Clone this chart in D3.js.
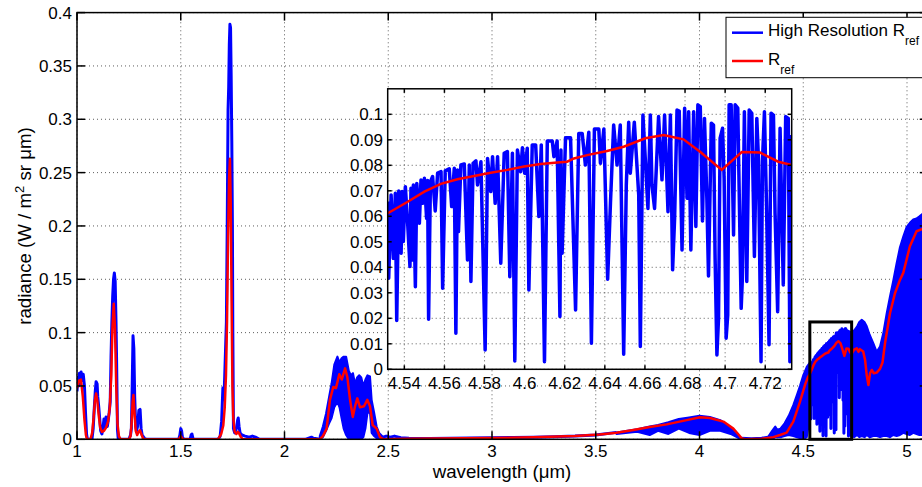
<!DOCTYPE html>
<html>
<head>
<meta charset="utf-8">
<title>radiance</title>
<script src="https://d3js.org/d3.v7.min.js"></script>
<style>
  body { margin: 0; background: #fff; }
  text { font-family: "Liberation Sans", Arial, Helvetica, sans-serif; fill: #000; }
</style>
</head>
<body>
<script>
// ---- data ----
var mainXTicks = [1, 1.5, 2, 2.5, 3, 3.5, 4, 4.5, 5];
var mainYTicks = [0, 0.05, 0.1, 0.15, 0.2, 0.25, 0.3, 0.35, 0.4];
var insetXTicks = [4.54, 4.56, 4.58, 4.6, 4.62, 4.64, 4.66, 4.68, 4.7, 4.72];
var insetYTicks = [0, 0.01, 0.02, 0.03, 0.04, 0.05, 0.06, 0.07, 0.08, 0.09, 0.1];
var legendNames = ["High Resolution R", "R"];
var legendSub = "ref";

// high resolution spectrum, line parts [wavelength, radiance]
var hiresLine1 = [[1.000,0.045],[1.004,0.058],[1.008,0.050],[1.012,0.062],[1.016,0.052],[1.020,0.063],[1.025,0.055],
  [1.030,0.061],[1.036,0.050],[1.041,0.025],[1.046,0.005],[1.050,0],[1.072,0],[1.078,0.010],[1.083,0.028],[1.088,0.045],
  [1.092,0.054],[1.097,0.052],[1.100,0.040],[1.105,0.030],[1.110,0.018],[1.114,0.008],[1.120,0.005],[1.126,0.012],
  [1.130,0.019],[1.134,0.010],[1.140,0.021],[1.146,0.012],[1.150,0.017],[1.155,0.025],[1.160,0.035],[1.164,0.077],
  [1.168,0.110],[1.172,0.134],[1.176,0.150],[1.180,0.156],[1.184,0.148],[1.188,0.110],[1.191,0.071],[1.195,0.009],
  [1.199,0],[1.250,0],[1.258,0.004],[1.262,0.010],[1.266,0.050],[1.270,0.097],[1.274,0.085],[1.278,0.040],[1.283,0.012],
  [1.287,0.008],[1.292,0.012],[1.298,0.027],[1.304,0.028],[1.309,0.010],[1.314,0.004],[1.325,0.001],[1.335,0],
  [1.490,0],[1.496,0.004],[1.500,0.010],[1.504,0.008],[1.508,0.002],[1.515,0],[1.545,0],[1.550,0.004],[1.554,0.005],
  [1.560,0],[1.680,0],[1.690,0.003],[1.697,0.017],[1.703,0.048],[1.708,0.037],[1.712,0.060],[1.716,0.085],[1.720,0.110],
  [1.724,0.200],[1.728,0.309],[1.731,0.330],[1.734,0.370],[1.737,0.389],[1.740,0.386],[1.743,0.340],[1.746,0.280],
  [1.749,0.200],[1.751,0.100],[1.754,0.010],[1.760,0.006],[1.768,0.010],[1.774,0.018],[1.777,0.020],[1.781,0.012],
  [1.786,0.006],[1.795,0.004],[1.810,0.003],[1.830,0.002],[1.845,0.003],[1.860,0.002],[1.880,0],[2.100,0],[2.130,0.002],
  [2.140,0.001],[2.170,0]];
var hiresLine2 = [[2.476,0.002],[2.490,0.003],[2.510,0.002],[2.530,0.003],[2.560,0.0015],[2.600,0.001],[2.700,0.0008],
  [2.800,0.001],[2.900,0.0012],[3.000,0.0015],[3.100,0.0018],[3.200,0.002],[3.300,0.0025],[3.400,0.003],[3.500,0.004],
  [3.600,0.0065]];
var hiresLine3 = [[4.200,0.001],[4.250,0.0005],[4.300,0.001],[4.330,0.002]];
// the zoomed window (also drawn in the main axes)
var hiresInset = [[4.5317,0.0658],[4.5322,0.0357],[4.5334,0.0684],[4.5345,0.0435],[4.5355,0.0690],[4.5362,0.0191],
  [4.5372,0.0699],[4.5384,0.0455],[4.5389,0.0697],[4.5395,0.0501],[4.5405,0.0716],[4.5417,0.0566],[4.5428,0.0403],
  [4.5433,0.0710],[4.5438,0.0429],[4.5445,0.0723],[4.5455,0.0324],[4.5462,0.0729],[4.5475,0.0573],[4.5483,0.0742],
  [4.5491,0.0651],[4.5500,0.0749],[4.5511,0.0592],[4.5516,0.0740],[4.5521,0.0196],[4.5530,0.0736],[4.5541,0.0756],
  [4.5554,0.0621],[4.5566,0.0769],[4.5583,0.0775],[4.5591,0.0318],[4.5604,0.0778],[4.5624,0.0786],[4.5636,0.0638],
  [4.5649,0.0788],[4.5657,0.0141],[4.5665,0.0782],[4.5670,0.0540],[4.5682,0.0801],[4.5699,0.0805],[4.5715,0.0429],
  [4.5724,0.0801],[4.5732,0.0344],[4.5743,0.0808],[4.5757,0.0817],[4.5765,0.0723],[4.5782,0.0814],[4.5803,0.0076],
  [4.5815,0.0827],[4.5831,0.0697],[4.5840,0.0834],[4.5853,0.0651],[4.5865,0.0834],[4.5881,0.0416],[4.5898,0.0847],
  [4.5914,0.0854],[4.5926,0.0363],[4.5939,0.0847],[4.5951,0.0033],[4.5964,0.0860],[4.5980,0.0775],[4.5989,0.0869],
  [4.6000,0.0769],[4.6013,0.0867],[4.6021,0.0311],[4.6038,0.0880],[4.6055,0.0880],[4.6071,0.0599],[4.6083,0.0880],
  [4.6099,0.0030],[4.6113,0.0895],[4.6138,0.0895],[4.6146,0.0834],[4.6162,0.0895],[4.6176,0.0207],[4.6181,0.0860],
  [4.6187,0.0455],[4.6204,0.0908],[4.6229,0.0908],[4.6254,0.0233],[4.6270,0.0925],[4.6287,0.0925],[4.6303,0.0801],
  [4.6320,0.0930],[4.6333,0.0102],[4.6348,0.0942],[4.6370,0.0942],[4.6378,0.0808],[4.6395,0.0942],[4.6414,0.0353],
  [4.6428,0.0651],[4.6444,0.0958],[4.6461,0.0801],[4.6477,0.0958],[4.6494,0.0059],[4.6507,0.0723],[4.6519,0.0969],
  [4.6527,0.0769],[4.6547,0.0969],[4.6569,0.0684],[4.6577,0.0089],[4.6590,0.0997],[4.6615,0.0631],[4.6627,0.0997],
  [4.6635,0.0723],[4.6648,0.0631],[4.6668,0.0991],[4.6685,0.0743],[4.6698,0.0997],[4.6715,0.0618],[4.6727,0.0997],
  [4.6738,0.0390],[4.6748,0.0592],[4.6760,0.1017],[4.6771,0.1013],[4.6785,0.0468],[4.6798,0.1024],[4.6810,0.0671],
  [4.6818,0.1010],[4.6829,0.0468],[4.6843,0.1010],[4.6854,0.0560],[4.6864,0.1037],[4.6876,0.1030],[4.6887,0.0582],
  [4.6897,0.0984],[4.6909,0.0664],[4.6917,0.0366],[4.6931,0.0965],[4.6942,0.0958],[4.6950,0.0435],[4.6959,0.0056],
  [4.6967,0.0200],[4.6975,0.0906],[4.6987,0.0945],[4.6995,0.0749],[4.7005,0.0122],[4.7013,0.0213],[4.7020,0.1037],
  [4.7030,0.1037],[4.7042,0.0527],[4.7050,0.1037],[4.7063,0.1024],[4.7080,0.0239],[4.7086,0.0357],[4.7096,0.1010],
  [4.7108,0.0344],[4.7120,0.1017],[4.7133,0.1004],[4.7146,0.0442],[4.7158,0.0984],[4.7166,0.0827],[4.7179,0.0030],
  [4.7186,0.0814],[4.7196,0.1010],[4.7207,0.0618],[4.7219,0.0096],[4.7229,0.1004],[4.7241,0.0997],[4.7249,0.0612],
  [4.7262,0.0226],[4.7274,0.0945],[4.7290,0.0331],[4.7302,0.0991],[4.7315,0.0984],[4.7323,0.0030],[4.7332,0.0919]];

// dense parts of the high resolution spectrum: [wavelength, upper, lower]
var hiresBandA = [[2.170,0.003,0],[2.185,0.012,0.002],[2.200,0.024,0.008],[2.215,0.040,0.015],[2.227,0.0525,0.020],
  [2.240,0.070,0.030],[2.255,0.0775,0.035],[2.265,0.072,0.030],[2.275,0.076,0.020],[2.285,0.0775,0.010],[2.297,0.0775,0.004],
  [2.310,0.064,0],[2.320,0.060,0],[2.330,0.062,0],[2.340,0.052,0],[2.350,0.058,0],[2.360,0.060,0],[2.370,0.058,0],
  [2.380,0.050,0.002],[2.390,0.056,0.010],[2.400,0.060,0.025],[2.412,0.059,0.025],[2.420,0.037,0.006],[2.432,0.025,0.003],
  [2.444,0.012,0.001],[2.456,0.006,0],[2.476,0.002,0]];
var hiresBandB = [[3.600,0.0065,0.005],[3.700,0.0095,0.007],[3.760,0.012,0.004],[3.800,0.0135,0.008],[3.850,0.016,0.005],
  [3.900,0.019,0.010],[3.950,0.0205,0.006],[4.000,0.022,0.004],[4.050,0.021,0.008],[4.100,0.018,0.008],[4.150,0.011,0.005],
  [4.180,0.005,0.002],[4.200,0.001,0]];
var hiresBandC = [[4.330,0.002,0],[4.350,0.008,0],[4.365,0.012,0.002],[4.375,0.009,0.002],[4.390,0.010,0.002],
  [4.410,0.015,0.003],[4.430,0.022,0.004],[4.452,0.032,0.003],[4.470,0.042,0.002],[4.484,0.050,0.001],[4.500,0.060,0],
  [4.517,0.068,0.002],[4.5317,0.072,0.020]];
// solid core of the zoomed window as it shows at the scale of the main axes
var hiresBandE = [[4.5317,0.068,0.045],[4.545,0.073,0.052],[4.555,0.076,0.056],[4.565,0.079,0.060],[4.575,0.082,0.061],
  [4.585,0.084,0.062],[4.595,0.086,0.062],[4.605,0.088,0.064],[4.615,0.090,0.065],[4.625,0.092,0.066],[4.635,0.094,0.066],
  [4.645,0.096,0.066],[4.655,0.097,0.065],[4.665,0.100,0.064],[4.680,0.102,0.060],[4.690,0.102,0.050],[4.700,0.103,0.040],
  [4.710,0.102,0.050],[4.720,0.101,0.055],[4.7332,0.100,0.050]];
var hiresBandD = [[4.7332,0.100,0.003],[4.745,0.102,0.002],[4.760,0.106,0.004],[4.770,0.110,0.002],[4.782,0.112,0.003],
  [4.795,0.110,0.002],[4.806,0.106,0.004],[4.820,0.098,0.002],[4.838,0.090,0.003],[4.854,0.082,0.003],[4.870,0.087,0.002],
  [4.886,0.100,0.003],[4.902,0.118,0.003],[4.918,0.134,0.002],[4.934,0.149,0.004],[4.950,0.165,0.003],[4.966,0.180,0.004],
  [4.982,0.190,0.006],[4.998,0.199,0.005],[5.014,0.203,0.004],[5.030,0.206,0.006],[5.046,0.207,0.005],[5.060,0.209,0.004],
  [5.080,0.212,0.004],[5.100,0.214,0.004]];

// reference (convolved) spectrum [wavelength, radiance]
var refCurve = [[1.000,0.048],[1.010,0.055],[1.019,0.056],[1.028,0.040],[1.036,0.018],[1.043,0.004],[1.048,0],[1.065,0],
  [1.073,0.006],[1.080,0.020],[1.086,0.036],[1.092,0.043],[1.098,0.036],[1.105,0.022],[1.112,0.011],[1.120,0.007],
  [1.130,0.008],[1.140,0.011],[1.150,0.017],[1.158,0.030],[1.165,0.060],[1.171,0.105],[1.177,0.127],[1.183,0.105],
  [1.189,0.050],[1.195,0.015],[1.202,0.003],[1.210,0],[1.250,0],[1.258,0.003],[1.263,0.015],[1.268,0.035],[1.272,0.0415],
  [1.277,0.025],[1.283,0.008],[1.290,0.004],[1.297,0.007],[1.303,0.0085],[1.310,0.005],[1.318,0.001],[1.325,0],
  [1.490,0],[1.500,0.003],[1.510,0],[1.680,0],[1.695,0.005],[1.705,0.013],[1.712,0.030],[1.718,0.060],[1.723,0.110],
  [1.728,0.190],[1.733,0.245],[1.737,0.263],[1.741,0.220],[1.745,0.130],[1.749,0.050],[1.753,0.020],[1.760,0.007],
  [1.768,0.005],[1.775,0.007],[1.780,0.006],[1.790,0.002],[1.800,0],[2.170,0],[2.185,0.003],[2.203,0.010],[2.219,0.037],
  [2.235,0.049],[2.248,0.048],[2.264,0.061],[2.276,0.056],[2.292,0.0665],[2.303,0.058],[2.316,0.037],[2.329,0.021],
  [2.340,0.031],[2.351,0.0384],[2.364,0.030],[2.383,0.031],[2.399,0.037],[2.412,0.031],[2.425,0.0134],[2.444,0.010],
  [2.460,0.002],[2.476,0],[2.600,0.0005],[3.000,0.0012],[3.200,0.002],[3.400,0.0032],[3.520,0.0045],[3.600,0.0062],
  [3.681,0.0088],[3.760,0.0115],[3.842,0.014],[3.938,0.018],[4.002,0.0206],[4.050,0.020],[4.115,0.0166],[4.163,0.010],
  [4.190,0.004],[4.203,0.0009],[4.220,0],[4.300,0.0005],[4.356,0.002],[4.388,0.004],[4.420,0.0062],[4.452,0.0166],
  [4.484,0.035],[4.510,0.052],[4.522,0.058],[4.5322,0.0614],[4.5417,0.0657],[4.5500,0.0697],[4.5582,0.0727],
  [4.5665,0.0745],[4.5748,0.0758],[4.5831,0.0771],[4.5914,0.0782],[4.5997,0.0795],[4.6080,0.0805],[4.6163,0.0811],
  [4.6212,0.0814],[4.6246,0.0827],[4.6312,0.0840],[4.6411,0.0856],[4.6494,0.0873],[4.6602,0.0906],[4.6693,0.0919],
  [4.6792,0.0902],[4.6875,0.0853],[4.6983,0.0782],[4.7083,0.0852],[4.7174,0.0850],[4.7265,0.0814],[4.7331,0.0801],
  [4.745,0.0840],[4.758,0.0853],[4.766,0.0820],[4.773,0.0845],[4.789,0.0822],[4.798,0.0744],[4.806,0.060],[4.814,0.0509],
  [4.822,0.0619],[4.830,0.0650],[4.840,0.0619],[4.854,0.0625],[4.870,0.0660],[4.882,0.0720],[4.894,0.0900],[4.918,0.1181],
  [4.942,0.1369],[4.966,0.1494],[4.982,0.156],[5.014,0.181],[5.046,0.195],[5.072,0.197],[5.100,0.199]];

// ---- drawing ----
var width = 922, height = 487;
var BLUE = '#0000ff', RED = '#ff0000';

var svg = d3.select('body').append('svg')
    .attr('width', width).attr('height', height);

var x = d3.scaleLinear().domain([1, 5.1]).range([77, 927.75]);
var y = d3.scaleLinear().domain([0, 0.4]).range([439.3, 12.6]);

var defs = svg.append('defs');
defs.append('clipPath').attr('id', 'clipMain').append('rect')
    .attr('x', x(1)).attr('y', y(0.4)).attr('width', x(5.1) - x(1)).attr('height', y(0) - y(0.4));

function drawGrid(g, xs, ys, xt, yt) {
  g.selectAll('.gx').data(xt).enter().append('line')
    .attr('x1', d => xs(d)).attr('x2', d => xs(d))
    .attr('y1', ys.range()[0]).attr('y2', ys.range()[1])
    .attr('stroke', '#333').attr('stroke-width', 0.8).attr('stroke-dasharray', '1,3');
  g.selectAll('.gy').data(yt).enter().append('line')
    .attr('y1', d => ys(d)).attr('y2', d => ys(d))
    .attr('x1', xs.range()[0]).attr('x2', xs.range()[1])
    .attr('stroke', '#333').attr('stroke-width', 0.8).attr('stroke-dasharray', '1,3');
}

function drawFrame(g, xs, ys, xt, yt, tl, sw) {
  var x0 = xs.range()[0], x1 = xs.range()[1], y0 = ys.range()[0], y1 = ys.range()[1];
  g.append('rect').attr('x', x0).attr('y', y1).attr('width', x1 - x0).attr('height', y0 - y1)
    .attr('fill', 'none').attr('stroke', '#000').attr('stroke-width', sw);
  xt.forEach(function(t) {
    g.append('line').attr('x1', xs(t)).attr('x2', xs(t)).attr('y1', y0).attr('y2', y0 - tl).attr('stroke', '#000').attr('stroke-width', sw);
    g.append('line').attr('x1', xs(t)).attr('x2', xs(t)).attr('y1', y1).attr('y2', y1 + tl).attr('stroke', '#000').attr('stroke-width', sw);
  });
  yt.forEach(function(t) {
    g.append('line').attr('y1', ys(t)).attr('y2', ys(t)).attr('x1', x0).attr('x2', x0 + tl).attr('stroke', '#000').attr('stroke-width', sw);
    g.append('line').attr('y1', ys(t)).attr('y2', ys(t)).attr('x1', x1).attr('x2', x1 - tl).attr('stroke', '#000').attr('stroke-width', sw);
  });
}

function drawSpectra(g, xs, ys) {
  var line = d3.line().x(d => xs(d[0])).y(d => ys(d[1]));
  var band = d3.area().x(d => xs(d[0])).y0(d => ys(d[2])).y1(d => ys(d[1]));
  [hiresBandA, hiresBandB, hiresBandC, hiresBandE, hiresBandD].forEach(function(b) {
    g.append('path').attr('d', band(b)).attr('fill', BLUE)
      .attr('stroke', BLUE).attr('stroke-width', 2).attr('stroke-linejoin', 'round');
  });
  [hiresLine1, hiresLine2, hiresLine3, hiresInset].forEach(function(s) {
    g.append('path').attr('d', line(s)).attr('fill', 'none')
      .attr('stroke', BLUE).attr('stroke-width', 3).attr('stroke-linejoin', 'round');
  });
  g.append('path').attr('d', line(refCurve)).attr('fill', 'none')
    .attr('stroke', RED).attr('stroke-width', 2.5).attr('stroke-linejoin', 'round');
}

var fmt = d => String(+d.toFixed(3));

// main axes
var main = svg.append('g');
drawGrid(main, x, y, mainXTicks, mainYTicks);
drawSpectra(main.append('g').attr('clip-path', 'url(#clipMain)'), x, y);
drawFrame(main, x, y, mainXTicks, mainYTicks, 8, 1.5);

main.selectAll('.xl').data(mainXTicks).enter().append('text')
  .attr('x', d => x(d)).attr('y', 456.5).attr('text-anchor', 'middle')
  .attr('font-size', 17).text(fmt);
main.selectAll('.yl').data(mainYTicks).enter().append('text')
  .attr('x', 72).attr('y', d => y(d) + 6).attr('text-anchor', 'end')
  .attr('font-size', 17).text(fmt);

main.append('text').attr('x', 502).attr('y', 478).attr('text-anchor', 'middle')
  .attr('font-size', 18.7).text('wavelength (\u03bcm)');

var yl = main.append('text').attr('transform', 'translate(30.5,226) rotate(-90)')
  .attr('text-anchor', 'middle').attr('font-size', 18.7);
yl.append('tspan').text('radiance (W / m');
yl.append('tspan').attr('dy', -7).attr('font-size', 13).text('2');
yl.append('tspan').attr('dy', 7).text(' sr \u03bcm)');

// box marking the zoomed window
var ix0 = hiresInset[0][0], ix1 = hiresInset[hiresInset.length - 1][0];
main.append('rect').attr('x', x(ix0)).attr('y', y(0.11))
  .attr('width', x(ix1) - x(ix0)).attr('height', y(0) - y(0.11))
  .attr('fill', 'none').attr('stroke', '#000').attr('stroke-width', 3);

// inset axes
var xi = d3.scaleLinear().domain([ix0, ix1]).range([387.7, 791.7]);
var yi = d3.scaleLinear().domain([0, 0.11]).range([369.3, 88.8]);
defs.append('clipPath').attr('id', 'clipInset').append('rect')
    .attr('x', 387.7).attr('y', 88.8).attr('width', 404).attr('height', 369.3 - 88.8);

var inset = svg.append('g');
inset.append('rect').attr('x', 387.7).attr('y', 88.8).attr('width', 404).attr('height', 369.3 - 88.8).attr('fill', '#fff');
drawGrid(inset, xi, yi, insetXTicks, insetYTicks);
var ic = inset.append('g').attr('clip-path', 'url(#clipInset)');
ic.append('path').attr('d', d3.line().x(d => xi(d[0])).y(d => yi(d[1]))(hiresInset))
  .attr('fill', 'none').attr('stroke', BLUE).attr('stroke-width', 3.5).attr('stroke-linejoin', 'round');
ic.append('path').attr('d', d3.line().x(d => xi(d[0])).y(d => yi(d[1]))(refCurve))
  .attr('fill', 'none').attr('stroke', RED).attr('stroke-width', 2.5);
drawFrame(inset, xi, yi, insetXTicks, insetYTicks, 4, 1.5);

inset.selectAll('.xl').data(insetXTicks).enter().append('text')
  .attr('x', d => xi(d)).attr('y', 389).attr('text-anchor', 'middle')
  .attr('font-size', 17).text(fmt);
inset.selectAll('.yl').data(insetYTicks).enter().append('text')
  .attr('x', 383).attr('y', d => yi(d) + 6).attr('text-anchor', 'end')
  .attr('font-size', 17).text(fmt);

// legend
var leg = svg.append('g');
leg.append('rect').attr('x', 726).attr('y', 17.3).attr('width', 200).attr('height', 60.4)
  .attr('fill', '#fff').attr('stroke', '#000').attr('stroke-width', 1);
[BLUE, RED].forEach(function(c, i) {
  var ly = [32.7, 61][i];
  leg.append('line').attr('x1', 732).attr('x2', 763).attr('y1', ly).attr('y2', ly)
    .attr('stroke', c).attr('stroke-width', 2.5);
  var t = leg.append('text').attr('x', 768).attr('y', ly + 3.5).attr('font-size', 17);
  t.append('tspan').text(legendNames[i]);
  t.append('tspan').attr('dy', 9).attr('font-size', 12).text(legendSub);
});
</script>
</body>
</html>
